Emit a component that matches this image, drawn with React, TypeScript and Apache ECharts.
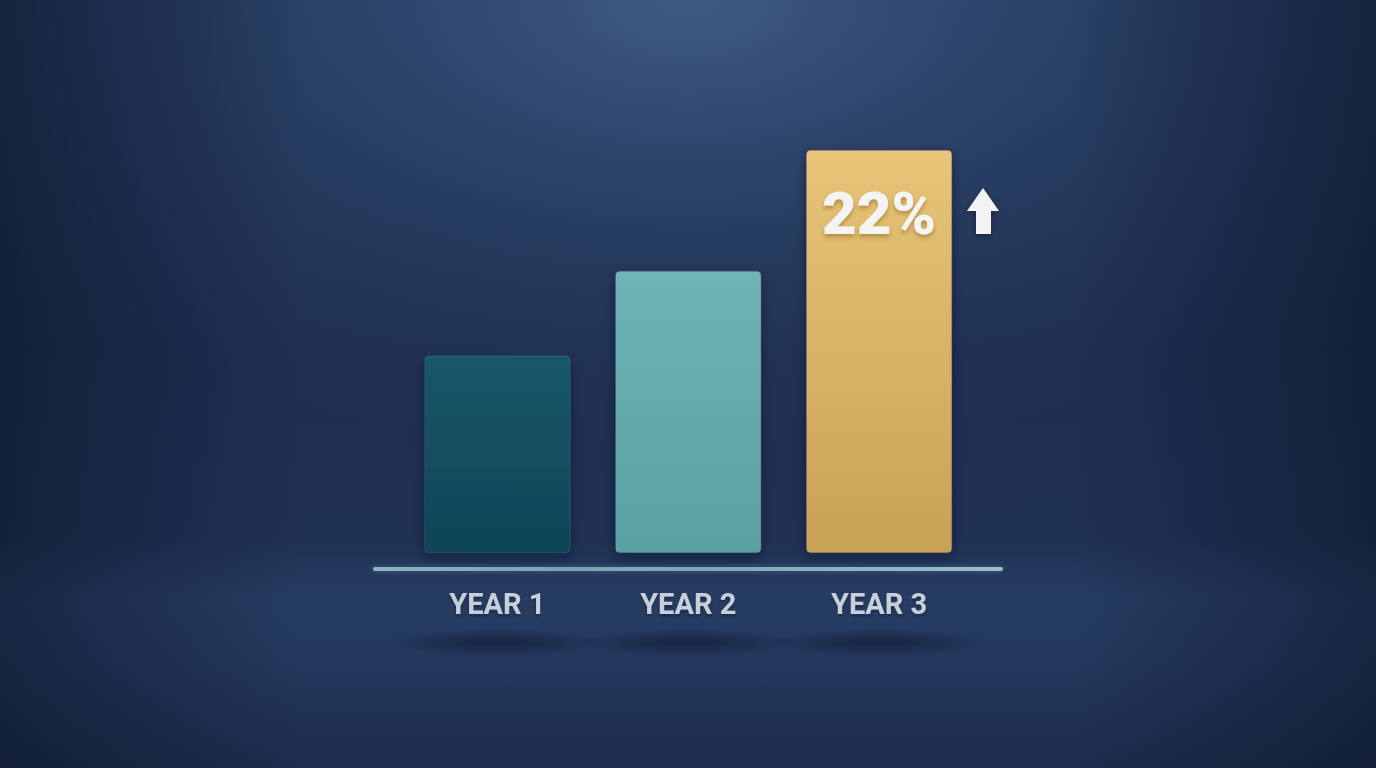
import React, { useEffect, useRef } from "react";
import * as echarts from "echarts";

const categories = ["YEAR 1", "YEAR 2", "YEAR 3"];
const values = [49, 70, 100];
const growthLabel = ["", "", "22%"];

const barColors = [
  ["#165768", "#0f4555"],
  ["#6fb4b4", "#5aa0a2"],
  ["#e7c477", "#c9a157"],
];

export default function App() {
  const ref = useRef<HTMLDivElement>(null);
  useEffect(() => {
    if (!ref.current) return;
    const chart = echarts.init(ref.current, undefined, { renderer: "svg" });
    const W = 1376;
    const H = 768;

    chart.setOption({
      animation: false,
      backgroundColor: "#1b2a48",
      grid: { left: 402, right: 401.5, top: 150, bottom: 215 },
      xAxis: {
        type: "category",
        data: categories,
        axisLine: { show: false },
        axisTick: { show: false },
        axisLabel: {
          margin: 36,
          color: "#c6cfda",
          fontFamily: "Roboto",
          fontWeight: 700,
          fontSize: 29,
          textShadowColor: "rgba(0,0,0,0.3)",
          textShadowBlur: 3,
          textShadowOffsetY: 2,
        },
      },
      yAxis: { type: "value", min: 0, max: 100, show: false, splitLine: { show: false } },
      graphic: [
        {
          type: "rect",
          z: -10,
          silent: true,
          shape: { x: 0, y: 0, width: W, height: H },
          style: {
            fill: new echarts.graphic.LinearGradient(0, 0, 0, 1, [
              { offset: 0, color: "#22355a" },
              { offset: 0.45, color: "#1e2f51" },
              { offset: 0.7, color: "#1f3154" },
              { offset: 0.78, color: "#273c63" },
              { offset: 0.86, color: "#24385e" },
              { offset: 1, color: "#1c2c4b" },
            ]),
          },
        },
        {
          type: "rect",
          z: -9,
          silent: true,
          shape: { x: 0, y: 0, width: W, height: H },
          style: {
            fill: new echarts.graphic.RadialGradient(0.5, 0.0, 0.6, [
              { offset: 0, color: "rgba(66,96,138,0.9)" },
              { offset: 0.5, color: "rgba(52,78,118,0.4)" },
              { offset: 1, color: "rgba(40,60,100,0)" },
            ]),
          },
        },
        {
          type: "rect",
          z: -8,
          silent: true,
          shape: { x: 0, y: 0, width: W, height: H },
          style: {
            fill: new echarts.graphic.LinearGradient(0, 0, 1, 0, [
              { offset: 0, color: "rgba(10,18,36,0.5)" },
              { offset: 0.22, color: "rgba(10,18,36,0)" },
              { offset: 0.78, color: "rgba(10,18,36,0)" },
              { offset: 1, color: "rgba(10,18,36,0.5)" },
            ]),
          },
        },
        ...[497.5, 688, 879].map((cx) => ({
          type: "ellipse",
          z: -5,
          silent: true,
          shape: { cx, cy: 643, rx: 110, ry: 14 },
          style: {
            fill: new echarts.graphic.RadialGradient(0.5, 0.5, 0.5, [
              { offset: 0, color: "rgba(12,20,40,0.55)" },
              { offset: 0.6, color: "rgba(12,20,40,0.25)" },
              { offset: 1, color: "rgba(12,20,40,0)" },
            ]),
          },
        })),
        {
          type: "rect",
          z: 5,
          silent: true,
          shape: { x: 373, y: 567, width: 630, height: 4, r: 2 },
          style: {
            fill: new echarts.graphic.LinearGradient(0, 0, 1, 0, [
              { offset: 0, color: "#8db0c4" },
              { offset: 0.3, color: "#7da2b7" },
              { offset: 0.6, color: "#84a9bd" },
              { offset: 1, color: "#9cbccd" },
            ]),
            shadowBlur: 6,
            shadowColor: "rgba(140,190,215,0.3)",
          },
        },
        {
          type: "polygon",
          z: 6,
          silent: true,
          shape: {
            points: [
              [983, 188],
              [999, 211],
              [991, 211],
              [991, 234],
              [976, 234],
              [976, 211],
              [967, 211],
            ],
          },
          style: {
            fill: "#f3f3f3",
            shadowBlur: 6,
            shadowColor: "rgba(0,0,0,0.35)",
            shadowOffsetY: 2,
          },
        },
      ],
      series: [
        {
          type: "bar",
          barWidth: 146,
          data: values.map((v, i) => ({
            value: v,
            itemStyle: {
              color: new echarts.graphic.LinearGradient(0, 0, 0, 1, [
                { offset: 0, color: barColors[i][0] },
                { offset: 1, color: barColors[i][1] },
              ]),
              borderRadius: 4,
              borderColor: "rgba(255,255,255,0.08)",
              borderWidth: 1,
              shadowBlur: 12,
              shadowColor: "rgba(5,12,28,0.5)",
              shadowOffsetY: 4,
            },
            label: {
              show: growthLabel[i] !== "",
              formatter: growthLabel[i],
              position: ["50%", 63],
              align: "center",
              verticalAlign: "middle",
              color: "#f4f4f2",
              fontFamily: "Roboto",
              fontWeight: 900,
              fontSize: 60,
              textShadowColor: "rgba(120,80,20,0.45)",
              textShadowBlur: 4,
              textShadowOffsetY: 3,
            },
          })),
        },
      ],
    });
    return () => chart.dispose();
  }, []);
  return (
    <div
      ref={ref}
      style={{ position: "fixed", left: 0, top: 0, width: 1376, height: 768 }}
    />
  );
}
